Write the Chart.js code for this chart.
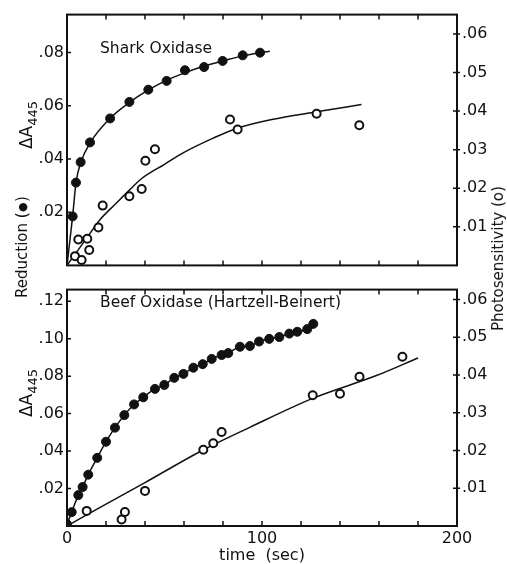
<!DOCTYPE html>
<html>
<head>
<meta charset="utf-8">
<script src="https://cdn.jsdelivr.net/npm/chart.js@4/dist/chart.umd.min.js"></script>
<style>
  body { margin: 0; background: #fff; }
  #wrap { position: relative; width: 507px; height: 564px; overflow: hidden; font-family: "DejaVu Sans", sans-serif; color: #111; }
  canvas { position: absolute; left: 0; }
  .lbl { position: absolute; white-space: nowrap; line-height: 1; }
  .rot { transform: translate(-50%, -50%) rotate(-90deg); }
  .vert { position: absolute; display: flex; align-items: center; justify-content: center;
          writing-mode: vertical-rl; text-orientation: sideways; transform: rotate(180deg);
          white-space: nowrap; line-height: 1; }
  .lbl sub { font-size: 13px; vertical-align: -5px; }
  .dot { font-size: 11px; }
</style>
</head>
<body>
<div id="wrap">
  <canvas id="top" width="507" height="280" style="top:0"></canvas>
  <canvas id="bottom" width="507" height="289" style="top:275px"></canvas>
  <div class="lbl" style="left:100px; top:41px; font-size:15.5px">Shark Oxidase</div>
  <div class="lbl" style="left:100px; top:295px; font-size:15.5px">Beef Oxidase (Hartzell-Beinert)</div>
  <div class="lbl rot" style="left:28px; top:125px; font-size:17px">ΔA<sub>445</sub></div>
  <div class="lbl rot" style="left:28px; top:393px; font-size:17px">ΔA<sub>445</sub></div>
  <div class="vert" style="left:13px; top:147px; width:18px; height:200px; font-size:15px">Reduction (<span class="dot">●</span>)</div>
  <div class="vert" style="left:490px; top:159px; width:18px; height:200px; font-size:15px">Photosensitivity (o)</div>
</div>
<script>
// Shark oxidase: reduction (filled, left axis)
const sharkRedTime = [2.9, 4.6, 7.0, 11.8, 22.1, 32.0, 41.7, 51.1, 60.5, 70.3, 79.8, 90.1, 99.0];
const sharkRedValue = [0.0184, 0.0311, 0.0388, 0.0462, 0.0552, 0.0614, 0.0660, 0.0693, 0.0733, 0.0745, 0.0768, 0.0789, 0.0799];
const sharkRedCurveTime = [0, 2.9, 4.6, 7, 12, 22, 32, 42, 51, 61, 70, 80, 90, 99, 104];
const sharkRedCurveValue = [0, 0.0185, 0.031, 0.0385, 0.0462, 0.0552, 0.0612, 0.066, 0.0695, 0.0725, 0.0748, 0.0768, 0.0787, 0.0799, 0.0804];

// Shark oxidase: photosensitivity (open, right axis)
const sharkPhotoTime = [4.1, 7.5, 5.8, 10.4, 11.4, 16.1, 18.3, 32.0, 38.3, 40.2, 45.1, 83.6, 87.5, 128, 149.9];
const sharkPhotoValue = [0.0024, 0.0014, 0.0067, 0.0069, 0.0040, 0.0098, 0.0155, 0.0179, 0.0198, 0.0271, 0.0301, 0.0378, 0.0352, 0.0393, 0.0363];
const sharkPhotoCurveTime = [0, 5, 10, 17, 25, 32, 38, 50, 60, 75, 87, 105, 128, 151];
const sharkPhotoCurveValue = [0, 0.0035, 0.007, 0.0119, 0.016, 0.0195, 0.0224, 0.0262, 0.0293, 0.033, 0.0355, 0.0378, 0.0398, 0.0417];

// Beef oxidase: reduction (filled, left axis)
const beefRedTime = [0, 2.4, 5.8, 8.0, 10.9, 15.5, 20.0, 24.6, 29.4, 34.4, 39.1, 45.1, 49.9, 55.0, 59.7, 64.8, 69.6, 74.2, 79.3, 82.7, 88.7, 93.8, 98.5, 103.7, 108.9, 114.0, 118.1, 123.2, 126.3];
const beefRedValue = [0.001, 0.0074, 0.0165, 0.0208, 0.0274, 0.0364, 0.0450, 0.0525, 0.0592, 0.0649, 0.0687, 0.0732, 0.0753, 0.0791, 0.0812, 0.0845, 0.0864, 0.0892, 0.0913, 0.0923, 0.0957, 0.0961, 0.0985, 0.0999, 0.1009, 0.1027, 0.1037, 0.1051, 0.1079];

// Beef oxidase: photosensitivity (open, right axis)
const beefPhotoTime = [10.1, 28.0, 29.7, 40.0, 69.9, 75.0, 79.3, 126, 140, 150, 172];
const beefPhotoValue = [0.0040, 0.0017, 0.0037, 0.0093, 0.0202, 0.0219, 0.0249, 0.0346, 0.0350, 0.0395, 0.0448];
const beefPhotoCurveTime = [0, 20, 40, 70, 94, 126, 159, 180];
const beefPhotoCurveValue = [0, 0.0058, 0.0115, 0.0202, 0.0262, 0.0338, 0.0399, 0.0445];

const timeTicks = [0, 100, 200];

const INK = '#111';
const pts = (xs, ys) => xs.map((x, i) => ({ x, y: ys[i] }));
const fmt = v => (Math.abs(v) < 1e-9 ? '' : v.toFixed(2).replace(/^0/, ''));

const frameTicks = {
    id: 'frameTicks',
    afterDraw(chart) {
        const { ctx, chartArea: a, scales } = chart;
        ctx.save();
        ctx.strokeStyle = INK;
        ctx.lineWidth = 1.5;
        ctx.beginPath();
        for (let t = 20; t < 200; t += 20) {
            const x = scales.x.getPixelForValue(t);
            ctx.moveTo(x, a.top); ctx.lineTo(x, a.top + 5);
            ctx.moveTo(x, a.bottom); ctx.lineTo(x, a.bottom - 5);
        }
        scales.yL.ticks.forEach(tk => {
            if (!tk.value) return;
            const y = scales.yL.getPixelForValue(tk.value);
            ctx.moveTo(a.left, y); ctx.lineTo(a.left + 4, y);
        });
        scales.yR.ticks.forEach(tk => {
            if (!tk.value) return;
            const y = scales.yR.getPixelForValue(tk.value);
            ctx.moveTo(a.right - 4, y); ctx.lineTo(a.right + 3, y);
        });
        ctx.stroke();
        ctx.lineWidth = 2;
        ctx.strokeRect(a.left, a.top, a.width, a.height);
        ctx.restore();
    }
};

function curve(data, axis) {
    return {
        data, yAxisID: axis, showLine: true, order: 2,
        borderColor: INK, borderWidth: 1.5, pointRadius: 0,
        cubicInterpolationMode: 'monotone'
    };
}
function filled(data, axis, line) {
    return {
        data, yAxisID: axis, showLine: !!line, order: 1,
        borderColor: INK, backgroundColor: INK, borderWidth: 1.5,
        pointRadius: 4.5, pointBorderWidth: 1, cubicInterpolationMode: 'monotone'
    };
}
function open(data, axis) {
    return {
        data, yAxisID: axis, showLine: false, order: 1,
        borderColor: INK, backgroundColor: '#fff',
        pointRadius: 4, pointBorderWidth: 2
    };
}

function yAxis(pos, max, step, width) {
    return {
        type: 'linear', position: pos, min: 0, max,
        grid: { display: false, drawTicks: false }, border: { display: false },
        ticks: {
            stepSize: step, includeBounds: false, padding: pos === 'left' ? 3 : 5,
            color: INK, font: { family: 'DejaVu Sans', size: 16 }, callback: fmt
        },
        afterFit: s => { s.width = width; }
    };
}

function makeChart(id, datasets, scales, padding) {
    return new Chart(document.getElementById(id), {
        type: 'scatter',
        data: { datasets },
        options: {
            responsive: false, animation: false, events: [],
            layout: { padding },
            plugins: { legend: { display: false }, tooltip: { enabled: false } },
            scales
        },
        plugins: [frameTicks]
    });
}

makeChart('top', [
    curve(pts(sharkRedCurveTime, sharkRedCurveValue), 'yL'),
    curve(pts(sharkPhotoCurveTime, sharkPhotoCurveValue), 'yR'),
    filled(pts(sharkRedTime, sharkRedValue), 'yL', false),
    open(pts(sharkPhotoTime, sharkPhotoValue), 'yR')
], {
    x: { type: 'linear', min: 0, max: 200, display: false },
    yL: yAxis('left', 0.0942, 0.02, 67),
    yR: yAxis('right', 0.065, 0.01, 50)
}, { top: 14, bottom: 14, left: 0, right: 0 });

makeChart('bottom', [
    curve(pts(beefPhotoCurveTime, beefPhotoCurveValue), 'yR'),
    filled(pts(beefRedTime, beefRedValue), 'yL', true),
    open(pts(beefPhotoTime, beefPhotoValue), 'yR')
], {
    x: {
        type: 'linear', min: 0, max: 200,
        grid: { display: false, drawTicks: false }, border: { display: false },
        ticks: {
            color: INK, padding: 3, font: { family: 'DejaVu Sans', size: 16 },
            maxRotation: 0, autoSkip: false
        },
        afterBuildTicks: s => { s.ticks = timeTicks.map(v => ({ value: v })); },
        title: { display: true, text: 'time  (sec)', color: INK, padding: 0,
                 font: { family: 'DejaVu Sans', size: 16, lineHeight: 1 } },
        afterFit: s => { s.height = 38; }
    },
    yL: yAxis('left', 0.1262, 0.02, 67),
    yR: yAxis('right', 0.0626, 0.01, 50)
}, { top: 8, bottom: 0, left: 0, right: 0 });
</script>
</body>
</html>
